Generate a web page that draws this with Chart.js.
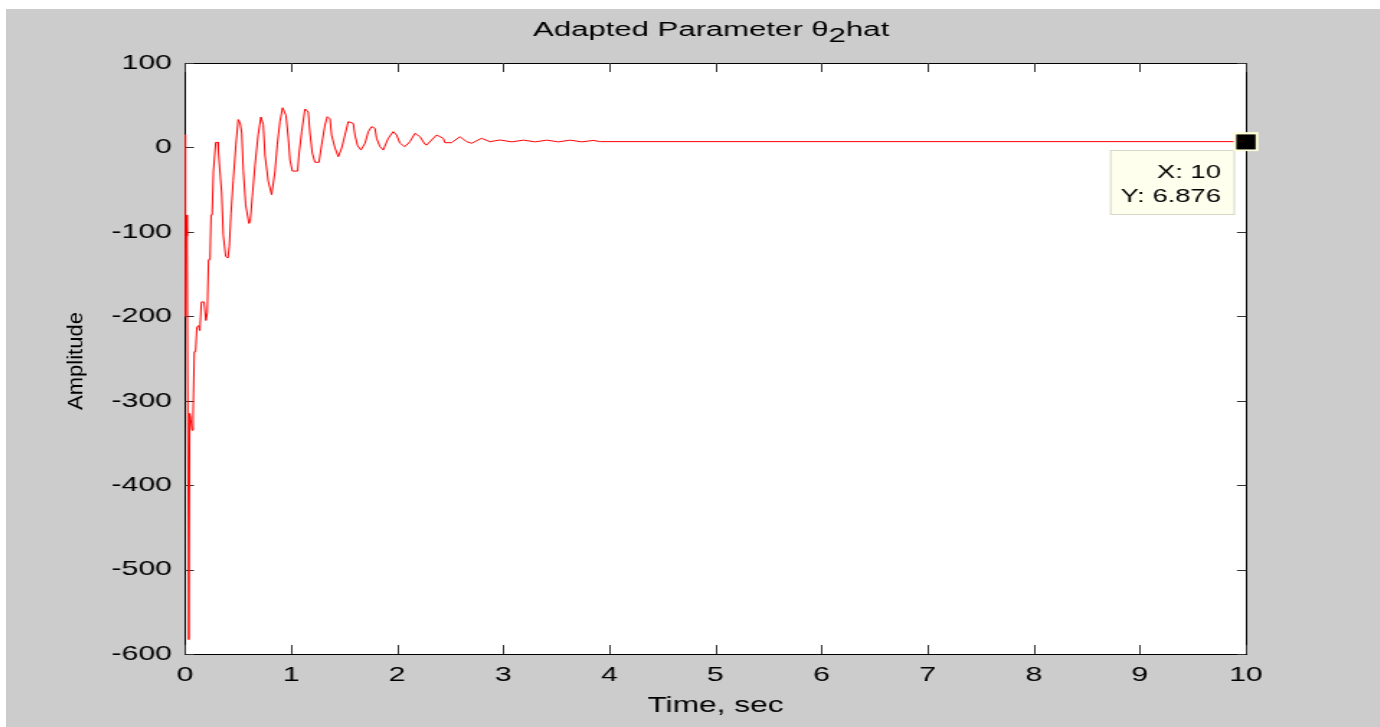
<!DOCTYPE html>
<html>
<head>
<meta charset="utf-8">
<script src="https://cdn.jsdelivr.net/npm/chart.js@4/dist/chart.umd.min.js"></script>
<style>
  html, body { margin: 0; padding: 0; background: #ffffff; overflow: hidden; }
  #c { position: absolute; left: 6px; top: 9px; background: #cccccc;
       transform: scaleX(1.44); transform-origin: 0 0; }
</style>
</head>
<body>
<canvas id="c" width="954" height="718" style="width:954px;height:718px"></canvas>
<script>
// ---- data ----
const times = [0, 0.004, 0.012, 0.02, 0.036, 0.045, 0.055, 0.066, 0.076, 0.088, 0.1, 0.112, 0.128, 0.14,
  0.155, 0.18, 0.197, 0.21, 0.222, 0.236, 0.246, 0.256, 0.268, 0.28, 0.29, 0.31, 0.315,
  0.346, 0.361, 0.384, 0.405, 0.418, 0.434, 0.455, 0.48, 0.502, 0.52, 0.535, 0.55, 0.572, 0.603, 0.615,
  0.635, 0.66, 0.69, 0.716, 0.738, 0.754, 0.785, 0.817, 0.848, 0.87, 0.895, 0.92, 0.952, 0.974, 0.99,
  1.012, 1.062, 1.074, 1.1, 1.131, 1.162, 1.178, 1.2, 1.225, 1.263, 1.288, 1.32, 1.341, 1.367, 1.382,
  1.414, 1.445, 1.477, 1.508, 1.539, 1.586, 1.602, 1.627, 1.659, 1.697, 1.728, 1.759, 1.791, 1.806,
  1.838, 1.869, 1.916, 1.963, 1.995, 2.026, 2.073, 2.12, 2.168, 2.215, 2.262, 2.278, 2.372, 2.435,
  2.45, 2.513, 2.592, 2.655, 2.702, 2.796, 2.875, 2.969, 3.08, 3.19, 3.30, 3.41, 3.52, 3.63, 3.74,
  3.85, 3.91, 10];
const theta2hat = [15, -200, -80, -105, -583, -315, -322, -335, -318, -242, -242, -213, -211, -217,
  -183, -183, -205, -196, -133, -133, -80, -80, -29, -29, 6, 6, -5,
  -54, -104, -129, -131, -117, -78, -39, 3, 33, 29, 17, -27, -68, -90, -88,
  -58, -21, 15, 36, 27, -9, -40, -56, -29, 3, 30.5, 47, 38, 11, -15,
  -28, -28, -9, 18.6, 45.5, 42, 17, -6.6, -17.6, -17.6, 3, 26.6, 36.4, 34, 14.7,
  -0.7, -11, -0.7, 14.7, 30.5, 28.5, 14.7, 2, -3, 5, 18.7, 24.6, 22.6, 10.8,
  0.9, -3, 10.8, 18.7, 14.7, 5, 0.9, 6.8, 16.7, 12.7, 3.7, 2.9, 14.7, 10.8,
  5.6, 5.6, 12.7, 6.8, 4.9, 10.8, 6.8, 8.8, 6.6, 8.6, 6.6, 8.6, 6.6, 8.6, 6.6,
  8.3, 6.876, 6.876];
const xTicks = [0, 1, 2, 3, 4, 5, 6, 7, 8, 9, 10];
const yTicks = [-600, -500, -400, -300, -200, -100, 0, 100];
const tipX = 10;
const tipY = 6.876;

// ---- layout ----
const S = 1.44;               // horizontal stretch of the reference
const FONT = "'Liberation Sans', Arial, Helvetica, sans-serif";

const points = times.map((t, i) => ({ x: t, y: theta2hat[i] }));

const framePlugin = {
  id: 'frame',
  beforeDraw(chart) {
    const { ctx, chartArea: a } = chart;
    ctx.save();
    ctx.fillStyle = '#ffffff';
    ctx.fillRect(a.left, a.top, a.right - a.left, a.bottom - a.top);
    ctx.restore();
  },
  beforeDatasetsDraw(chart) {
    const { ctx, chartArea: a, scales } = chart;
    ctx.save();
    ctx.strokeStyle = '#000000';
    ctx.lineWidth = 1;
    ctx.strokeRect(Math.round(a.left) + 0.5, Math.round(a.top) + 0.5,
                   Math.round(a.right - a.left), Math.round(a.bottom - a.top));
    ctx.strokeStyle = '#333333';
    const tlV = 9, tlH = 9 / S;
    ctx.beginPath();
    xTicks.forEach(v => {
      const px = Math.round(scales.x.getPixelForValue(v)) + 0.5;
      ctx.moveTo(px, a.bottom); ctx.lineTo(px, a.bottom - tlV);
      ctx.moveTo(px, a.top); ctx.lineTo(px, a.top + tlV);
    });
    yTicks.forEach(v => {
      const py = Math.round(scales.y.getPixelForValue(v)) + 0.5;
      ctx.moveTo(a.left, py); ctx.lineTo(a.left + tlH, py);
      ctx.moveTo(a.right, py); ctx.lineTo(a.right - tlH, py);
    });
    ctx.stroke();
    ctx.restore();
  },
  afterDraw(chart) {
    const { ctx, chartArea: a, scales } = chart;
    ctx.save();
    ctx.fillStyle = '#000000';
    // Title with subscript
    const fs = 20, k = 1.08;
    ctx.font = fs + 'px ' + FONT;
    const p1 = 'Adapted Parameter \u03B8', p2 = '2', p3 = 'hat';
    const w1 = ctx.measureText(p1).width, w2 = ctx.measureText(p2).width, w3 = ctx.measureText(p3).width;
    const total = (w1 + w2 + w3) * k;
    const cx = (a.left + a.right) / 2 - 3;
    const by = 27;
    ctx.save();
    ctx.translate(cx - total / 2, by);
    ctx.scale(k, 1);
    ctx.textBaseline = 'alphabetic';
    ctx.textAlign = 'left';
    ctx.fillText(p1, 0, 0);
    ctx.fillText(p2, w1, 5.5);
    ctx.fillText(p3, w1 + w2, 0);
    ctx.restore();

    // Y axis title (not stretched in reference)
    ctx.save();
    ctx.scale(1 / S, 1);
    ctx.translate(76.5, 352);
    ctx.rotate(-Math.PI / 2);
    ctx.font = '22px ' + FONT;
    ctx.textAlign = 'center';
    ctx.textBaseline = 'alphabetic';
    ctx.fillText('Amplitude', 0, 0);
    ctx.restore();

    // Data tip
    const px = scales.x.getPixelForValue(tipX);
    const py = scales.y.getPixelForValue(tipY);
    const bl = px - 94.4, br = px - 7.6, bt = py + 8.4, bb = py + 73.4;
    ctx.fillStyle = '#ffffee';
    ctx.fillRect(bl, bt, br - bl, bb - bt);
    ctx.strokeStyle = '#d6d6c8';
    ctx.lineWidth = 1;
    ctx.strokeRect(bl + 0.5, bt + 0.5, br - bl - 1, bb - bt - 1);
    ctx.fillStyle = '#000000';
    ctx.font = '19px ' + FONT;
    ctx.textAlign = 'right';
    ctx.textBaseline = 'alphabetic';
    ctx.fillText('X: ' + tipX, px - 17.4, py + 36);
    ctx.fillText('Y: ' + tipY, px - 17.4, py + 60.5);
    // marker
    ctx.fillStyle = '#ffffd8';
    ctx.fillRect(px - 8.6, py - 9.5, 17.2, 19);
    ctx.fillStyle = '#000000';
    ctx.fillRect(px - 6.7, py - 7.2, 13.4, 15);
    ctx.restore();
  }
};

new Chart(document.getElementById('c'), {
  type: 'line',
  data: {
    datasets: [{
      data: points,
      borderColor: '#ff0000',
      borderWidth: 1,
      pointRadius: 0,
      tension: 0,
      fill: false
    }]
  },
  options: {
    responsive: false,
    animation: false,
    devicePixelRatio: 1,
    parsing: true,
    layout: { padding: { left: 0, right: 92.9, top: 54, bottom: 0 } },
    plugins: { legend: { display: false }, tooltip: { enabled: false }, title: { display: false } },
    scales: {
      x: {
        type: 'linear', position: 'bottom', min: 0, max: 10,
        afterBuildTicks: s => { s.ticks = xTicks.map(v => ({ value: v })); },
        ticks: { color: '#000000', font: { family: FONT, size: 21 }, padding: 9, maxRotation: 0, autoSkip: false },
        grid: { display: false, drawTicks: false },
        border: { display: false },
        title: { display: true, text: 'Time, sec', color: '#000000', font: { family: FONT, size: 22 },
                 padding: { top: 0, bottom: 8 } },
        afterFit: s => { s.height = 73; }
      },
      y: {
        type: 'linear', min: -600, max: 100,
        afterBuildTicks: s => { s.ticks = yTicks.map(v => ({ value: v })); },
        ticks: { color: '#000000', font: { family: FONT, size: 21 }, padding: 9 },
        grid: { display: false, drawTicks: false },
        border: { display: false },
        afterFit: s => { s.width = 124.3; }
      }
    }
  },
  plugins: [framePlugin]
});
</script>
</body>
</html>
